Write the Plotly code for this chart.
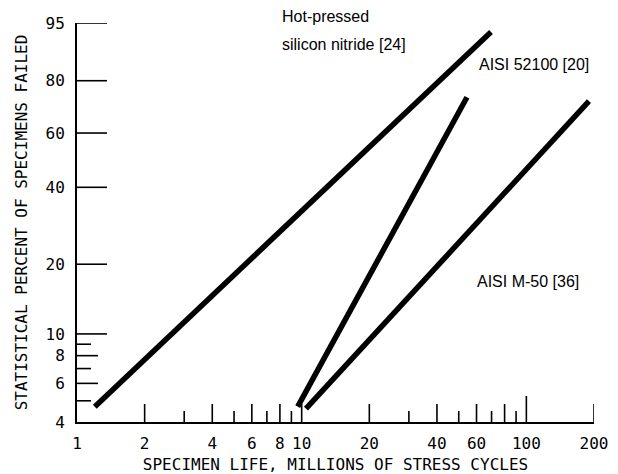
import math
import plotly.graph_objects as go

# ---- data ----
silicon_life = [1.2, 69.6]        # millions of stress cycles
silicon_pct = [4.7, 93.4]         # statistical percent failed
aisi52100_life = [9.6, 54.4]
aisi52100_pct = [4.7, 74.0]
m50_life = [10.45, 190.0]
m50_pct = [4.6, 72.5]

y_tick_labels = [4, 6, 8, 10, 20, 40, 60, 80, 95]
y_ticks_long = [10, 20, 40, 60, 80, 95]
y_ticks_mid = [6, 8]
y_ticks_short = [5, 7, 9]

x_tick_labels = [1, 2, 4, 6, 8, 10, 20, 40, 60, 100, 200]
x_ticks_major = [2, 4, 6, 8, 10, 20, 40, 60, 80, 200]
x_ticks_minor = [3, 5, 7, 9, 30, 50, 70, 90]
x_ticks_tall = [100]


def weib(p):
    return math.log(-math.log(1 - p / 100.0))


W = 618
H = 474
ML, MR, MT, MB = 77, 24, 23, 52
PW = W - ML - MR
PH = H - MT - MB

mono = "DejaVu Sans Mono"
sans = "Liberation Sans"

fig = go.Figure()
for lx, ly in [(silicon_life, silicon_pct), (aisi52100_life, aisi52100_pct), (m50_life, m50_pct)]:
    fig.add_trace(go.Scatter(
        x=lx, y=[weib(p) for p in ly], mode="lines",
        line=dict(color="black", width=5.5), showlegend=False, hoverinfo="skip"))

shapes = []
for vals, L in [(y_ticks_long, 30), (y_ticks_mid, 21), (y_ticks_short, 14)]:
    for v in vals:
        shapes.append(dict(type="line", xref="x domain", yref="y",
                           x0=0, x1=L / PW, y0=weib(v), y1=weib(v),
                           line=dict(color="black", width=1.6)))
for vals, L in [(x_ticks_major, 18), (x_ticks_minor, 11), (x_ticks_tall, 26)]:
    for v in vals:
        shapes.append(dict(type="line", xref="x", yref="y domain",
                           x0=v, x1=v, y0=0, y1=L / PH,
                           line=dict(color="black", width=1.6)))

annotations = [
    dict(text="Hot-pressed", x=(280 - ML) / PW, y=(MT + PH - 17) / PH),
    dict(text="silicon nitride [24]", x=(280 - ML) / PW, y=(MT + PH - 44) / PH),
    dict(text="AISI 52100 [20]", x=(477 - ML) / PW, y=(MT + PH - 64) / PH),
    dict(text="AISI M-50 [36]", x=(475 - ML) / PW, y=(MT + PH - 281) / PH),
]
for a in annotations:
    a.update(xref="paper", yref="paper", xanchor="left", yanchor="middle",
             showarrow=False, font=dict(family=sans, size=16, color="black"))

fig.update_layout(
    width=W, height=H,
    margin=dict(l=ML, r=MR, t=MT, b=MB, pad=0, autoexpand=False),
    paper_bgcolor="white", plot_bgcolor="white",
    shapes=shapes, annotations=annotations,
    xaxis=dict(
        type="log", range=[math.log10(1), math.log10(200)], automargin=False,
        showgrid=False, zeroline=False, showline=True, linecolor="black", linewidth=2,
        ticks="", tickvals=x_tick_labels, ticktext=[str(v) for v in x_tick_labels],
        tickfont=dict(family=mono, size=16, color="black"),
        ticklabelstandoff=6,
        title=dict(text="SPECIMEN LIFE, MILLIONS OF STRESS CYCLES",
                   font=dict(family=mono, size=16, color="black"), standoff=8),
    ),
    yaxis=dict(
        range=[weib(4), weib(95)], automargin=False,
        showgrid=False, zeroline=False, showline=True, linecolor="black", linewidth=2,
        ticks="", tickvals=[weib(v) for v in y_tick_labels],
        ticktext=[str(v) for v in y_tick_labels],
        tickfont=dict(family=mono, size=16, color="black"),
        ticklabelstandoff=7,
        title=dict(text="STATISTICAL PERCENT OF SPECIMENS FAILED",
                   font=dict(family=mono, size=16, color="black"), standoff=14),
    ),
)

fig.write_html("out.html", config={"displayModeBar": False},
               post_script="document.body.style.margin='0';")
